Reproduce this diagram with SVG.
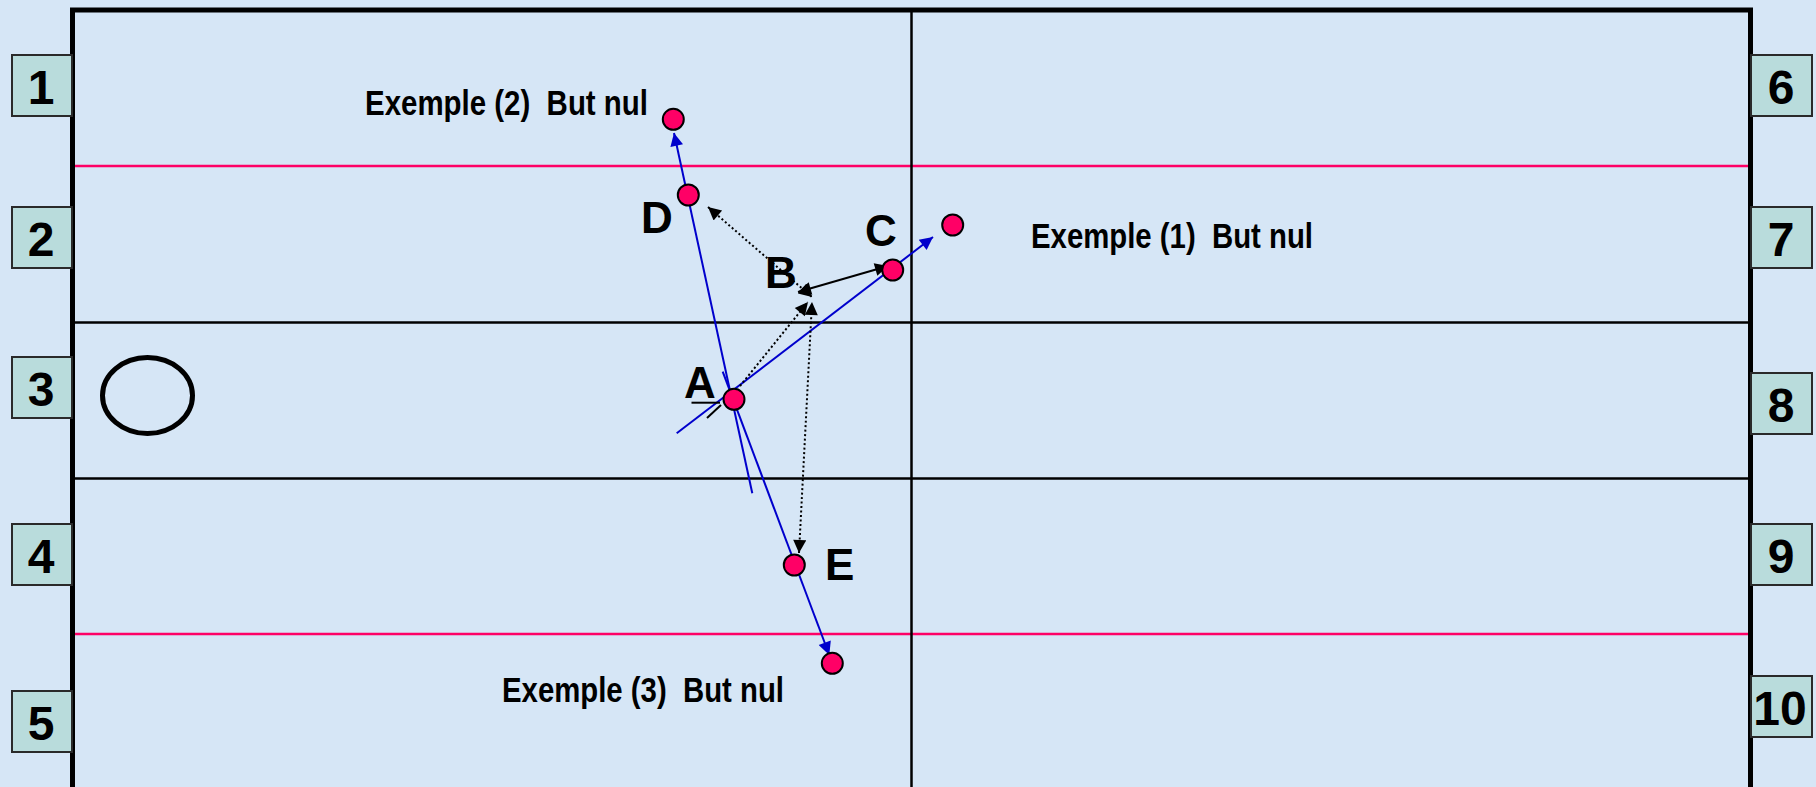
<svg xmlns="http://www.w3.org/2000/svg" width="1816" height="787" viewBox="0 0 1816 787">
<style>
.box{fill:#b9dcdc;stroke:#2a2a2a;stroke-width:2}
.num{font-family:"Liberation Sans",Arial,sans-serif;font-weight:bold;font-size:48px;fill:#000;text-anchor:middle}
.lbl{font-family:"Liberation Sans",Arial,sans-serif;font-weight:bold;font-size:44px;fill:#000}
.ex{font-family:"Liberation Sans Narrow","Arial Narrow","Liberation Sans",sans-serif;font-weight:bold;font-size:35px;fill:#000}
.pt{fill:#ff0066;stroke:#000;stroke-width:2}
.blue{stroke:#0000cc;stroke-width:2;fill:none}
.dot{stroke:#000;stroke-width:2;stroke-dasharray:2 2.5;fill:none}
.sol{stroke:#000;stroke-width:2;fill:none}
.grid{stroke:#000;stroke-width:2.5}
.red{stroke:#ff0066;stroke-width:2.5}
</style>
<defs>
<marker id="ab" viewBox="0 0 10 10" refX="10" refY="5" markerWidth="16" markerHeight="13" markerUnits="userSpaceOnUse" orient="auto-start-reverse"><path d="M0,0 L10,5 L0,10 z" fill="#0000cc"/></marker>
<marker id="ak" viewBox="0 0 10 10" refX="10" refY="5" markerWidth="16" markerHeight="13" markerUnits="userSpaceOnUse" orient="auto-start-reverse"><path d="M0,0 L10,5 L0,10 z" fill="#000"/></marker>
</defs>
<rect x="0" y="0" width="1816" height="787" fill="#d6e6f6"/>
<g id="field">
<line class="red" x1="75" y1="166" x2="1748" y2="166"/>
<line class="red" x1="75" y1="634" x2="1748" y2="634"/>
<line class="grid" x1="75" y1="322.5" x2="1748" y2="322.5"/>
<line class="grid" x1="75" y1="478.5" x2="1748" y2="478.5"/>
<line class="grid" x1="911.5" y1="12" x2="911.5" y2="787"/>
<rect x="72.5" y="10" width="1678" height="800" fill="none" stroke="#000" stroke-width="5"/>
<ellipse cx="147.5" cy="395.5" rx="45" ry="38" fill="none" stroke="#000" stroke-width="5"/>
</g>
<g id="box1"><rect class="box" x="12" y="55" width="60" height="61"/><text class="num" x="41" y="104">1</text></g>
<g id="box2"><rect class="box" x="12" y="207" width="60" height="61"/><text class="num" x="41" y="256">2</text></g>
<g id="box3"><rect class="box" x="12" y="357" width="60" height="61"/><text class="num" x="41" y="406">3</text></g>
<g id="box4"><rect class="box" x="12" y="524" width="60" height="61"/><text class="num" x="41" y="573">4</text></g>
<g id="box5"><rect class="box" x="12" y="691" width="60" height="61"/><text class="num" x="41" y="740">5</text></g>
<g id="box6"><rect class="box" x="1751" y="55" width="61" height="61"/><text class="num" x="1781" y="104">6</text></g>
<g id="box7"><rect class="box" x="1751" y="207" width="61" height="61"/><text class="num" x="1781" y="256">7</text></g>
<g id="box8"><rect class="box" x="1751" y="373" width="61" height="61"/><text class="num" x="1781" y="422">8</text></g>
<g id="box9"><rect class="box" x="1751" y="524" width="61" height="61"/><text class="num" x="1781" y="573">9</text></g>
<g id="box10"><rect class="box" x="1751" y="676" width="61" height="61"/><text class="num" x="1780" y="725">10</text></g>
<g id="connectors">
<line class="blue" x1="676.7" y1="433.3" x2="933" y2="237" marker-end="url(#ab)"/>
<line class="blue" x1="752.3" y1="493.3" x2="674" y2="133" marker-end="url(#ab)"/>
<line class="blue" x1="722.7" y1="371.7" x2="829.3" y2="655" marker-end="url(#ab)"/>
<line class="dot" x1="708" y1="207" x2="812" y2="297" marker-start="url(#ak)" marker-end="url(#ak)"/>
<line class="dot" x1="740" y1="386" x2="808" y2="302" marker-end="url(#ak)"/>
<line class="dot" x1="799" y1="553" x2="812" y2="302" marker-start="url(#ak)" marker-end="url(#ak)"/>
<line class="sol" x1="798" y1="292" x2="888" y2="266" marker-start="url(#ak)" marker-end="url(#ak)"/>
<line class="sol" x1="691.5" y1="402.7" x2="720" y2="402.7"/>
<line class="sol" x1="707" y1="418" x2="721" y2="405"/>
</g>
<g id="goal2"><circle class="pt" cx="673.3" cy="119.3" r="10.5"/></g>
<g id="D"><circle class="pt" cx="688.3" cy="195" r="10.5"/><text class="lbl" x="641" y="233">D</text></g>
<g id="C"><circle class="pt" cx="892.7" cy="270" r="10.5"/><text class="lbl" x="865" y="246">C</text></g>
<g id="goal1"><circle class="pt" cx="952.7" cy="225" r="10.5"/></g>
<g id="B"><text class="lbl" x="765" y="288">B</text></g>
<g id="A"><circle class="pt" cx="734" cy="399.3" r="10.5"/><text class="lbl" x="684" y="398">A</text></g>
<g id="E"><circle class="pt" cx="794.3" cy="565" r="10.5"/><text class="lbl" x="825" y="580">E</text></g>
<g id="goal3"><circle class="pt" cx="832.3" cy="663.3" r="10.5"/></g>
<g id="ex2"><text class="ex" x="365" y="115" xml:space="preserve" textLength="283" lengthAdjust="spacingAndGlyphs">Exemple (2)  But nul</text></g>
<g id="ex1"><text class="ex" x="1031" y="248" xml:space="preserve" textLength="282" lengthAdjust="spacingAndGlyphs">Exemple (1)  But nul</text></g>
<g id="ex3"><text class="ex" x="502" y="702" xml:space="preserve" textLength="282" lengthAdjust="spacingAndGlyphs">Exemple (3)  But nul</text></g>
</svg>
